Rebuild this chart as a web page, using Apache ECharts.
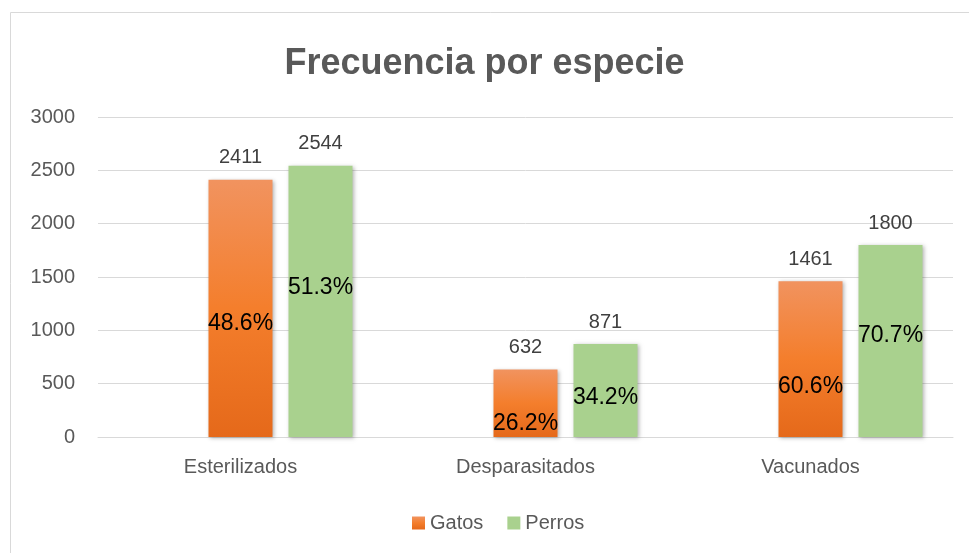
<!DOCTYPE html>
<html>
<head>
<meta charset="utf-8">
<script src="https://cdn.jsdelivr.net/npm/echarts@6/dist/echarts.min.js"></script>
<style>
  html, body { margin: 0; padding: 0; background: #fff; }
  #main { width: 969px; height: 553px; }
</style>
</head>
<body>
<div id="main"></div>
<script>
var chartDom = document.getElementById('main');
var myChart = echarts.init(chartDom);

var categories = ['Esterilizados', 'Desparasitados', 'Vacunados'];
var gatos = [2411, 632, 1461];
var perros = [2544, 871, 1800];
var gatosPct = ['48.6%', '26.2%', '60.6%'];
var perrosPct = ['51.3%', '34.2%', '70.7%'];
var yTicks = [0, 500, 1000, 1500, 2000, 2500, 3000];

// where the percent label sits inside each bar (fraction from the top)
var gatosPctPos = ['56%', '80%', '68%'];
var perrosPctPos = ['45%', '58%', '47%'];

var FONT = '"Liberation Sans", Arial, sans-serif';
var shadow = {
  shadowBlur: 4,
  shadowColor: 'rgba(0,0,0,0.3)',
  shadowOffsetX: 1,
  shadowOffsetY: 1
};

function pctData(values, pos) {
  return values.map(function (v, i) {
    return { value: v, label: { position: ['50%', pos[i]] } };
  });
}

function topLabels(values) {
  // zero-height bar stacked on top, only carries the value label
  return values.map(function () { return 0; });
}

var option = {
  animation: false,
  graphic: [{
    type: 'rect',
    shape: { x: 10.5, y: 12.5, width: 1000, height: 600 },
    style: { fill: 'none', stroke: '#d9d9d9', lineWidth: 1 },
    silent: true
  }],
  title: {
    text: 'Frecuencia por especie',
    left: 'center',
    top: 41,
    textStyle: { fontFamily: FONT, fontSize: 36, fontWeight: 'bold', color: '#595959' }
  },
  legend: {
    data: ['Gatos', 'Perros'],
    bottom: 15,
    left: 407,
    itemWidth: 13,
    itemHeight: 13,
    itemGap: 24,
    icon: 'rect',
    textStyle: { fontFamily: FONT, fontSize: 20, color: '#595959' }
  },
  grid: { left: 98, right: 16, top: 117, bottom: 116 },
  xAxis: {
    type: 'category',
    data: categories,
    axisLine: { lineStyle: { color: '#d9d9d9' } },
    axisTick: { show: false },
    axisLabel: { fontFamily: FONT, fontSize: 20, color: '#595959', margin: 20 }
  },
  yAxis: {
    type: 'value',
    min: yTicks[0],
    max: yTicks[yTicks.length - 1],
    interval: yTicks[1] - yTicks[0],
    axisLine: { show: false },
    axisTick: { show: false },
    splitLine: { lineStyle: { color: '#d9d9d9' } },
    axisLabel: {
      fontFamily: FONT, fontSize: 20, color: '#595959', margin: 23,
      formatter: function (v) { return String(v); }
    }
  },
  series: [
    {
      // empty slot that Excel keeps on the left of each group
      name: 'vacío',
      type: 'bar',
      stack: 'h',
      barWidth: 64,
      barGap: '25%',
      data: [null, null, null],
      silent: true
    },
    {
      name: 'Gatos',
      type: 'bar',
      stack: 'g',
      barWidth: 64,
      data: pctData(gatos, gatosPctPos),
      itemStyle: Object.assign({
        color: new echarts.graphic.LinearGradient(0, 0, 0, 1, [
          { offset: 0, color: '#F1935F' },
          { offset: 0.5, color: '#F47E2C' },
          { offset: 1, color: '#E5691A' }
        ])
      }, shadow),
      label: {
        show: true,
        align: 'center',
        verticalAlign: 'middle',
        formatter: function (p) { return gatosPct[p.dataIndex]; },
        fontFamily: FONT, fontSize: 23, color: '#000'
      }
    },
    {
      name: 'GatosTop',
      type: 'bar',
      stack: 'g',
      barWidth: 64,
      data: topLabels(gatos),
      itemStyle: { color: 'rgba(0,0,0,0)' },
      silent: true,
      label: {
        show: true,
        position: 'top',
        distance: 12,
        formatter: function (p) { return String(gatos[p.dataIndex]); },
        fontFamily: FONT, fontSize: 20, color: '#404040'
      }
    },
    {
      name: 'Perros',
      type: 'bar',
      stack: 'p',
      barWidth: 64,
      data: pctData(perros, perrosPctPos),
      itemStyle: Object.assign({ color: '#A9D18E' }, shadow),
      label: {
        show: true,
        align: 'center',
        verticalAlign: 'middle',
        formatter: function (p) { return perrosPct[p.dataIndex]; },
        fontFamily: FONT, fontSize: 23, color: '#000'
      }
    },
    {
      name: 'PerrosTop',
      type: 'bar',
      stack: 'p',
      barWidth: 64,
      data: topLabels(perros),
      itemStyle: { color: 'rgba(0,0,0,0)' },
      silent: true,
      label: {
        show: true,
        position: 'top',
        distance: 12,
        formatter: function (p) { return String(perros[p.dataIndex]); },
        fontFamily: FONT, fontSize: 20, color: '#404040'
      }
    }
  ]
};

option && myChart.setOption(option);
</script>
</body>
</html>
